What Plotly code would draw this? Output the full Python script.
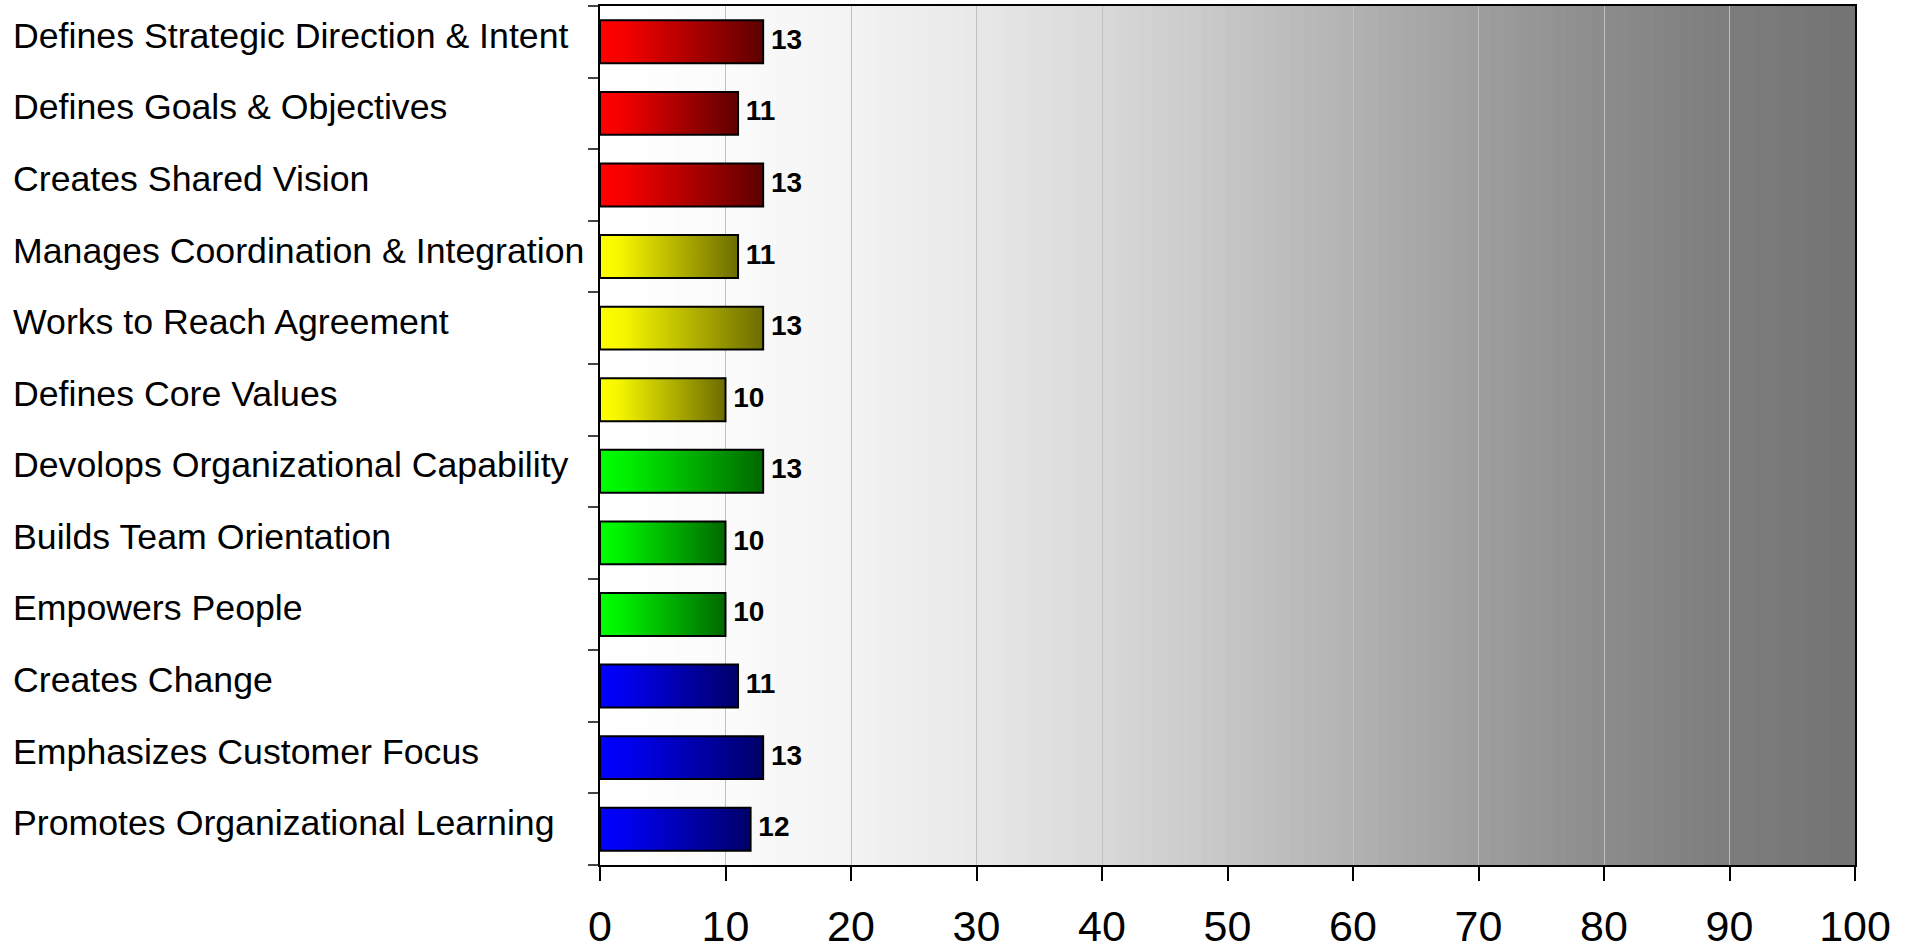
import plotly.graph_objects as go

# Leadership competency scores
categories = [
    "Defines Strategic Direction & Intent",
    "Defines Goals & Objectives",
    "Creates Shared Vision",
    "Manages Coordination & Integration",
    "Works to Reach Agreement",
    "Defines Core Values",
    "Devolops Organizational Capability",
    "Builds Team Orientation",
    "Empowers People",
    "Creates Change",
    "Emphasizes Customer Focus",
    "Promotes Organizational Learning",
]
scores = [13, 11, 13, 11, 13, 10, 13, 10, 10, 11, 13, 12]
groups = ["red", "red", "red", "yellow", "yellow", "yellow",
          "green", "green", "green", "blue", "blue", "blue"]
x_ticks = [0, 10, 20, 30, 40, 50, 60, 70, 80, 90, 100]

# bar gradient (light -> dark) for each group
bar_gradients = {
    "red":    [[0, "#ff0000"], [0.15, "#f50000"], [1, "#5e0000"]],
    "yellow": [[0, "#ffff00"], [0.15, "#f5f500"], [1, "#6c6c00"]],
    "green":  [[0, "#00ff00"], [0.15, "#00f200"], [1, "#006800"]],
    "blue":   [[0, "#0000ff"], [0.15, "#0000f2"], [1, "#000068"]],
}

# grey ramp of the plot background (axis value, grey level)
bg_stops = [(0, 255), (10, 251), (20, 243), (30, 232), (40, 217), (50, 198),
            (60, 178), (70, 158), (80, 140), (90, 125), (100, 115)]

FONT = "Liberation Sans, Arial, sans-serif"
BAR_HALF = 0.3

fig = go.Figure()

# gradient-filled bars with black outline
for i, (v, g) in enumerate(zip(scores, groups)):
    fig.add_trace(go.Scatter(
        x=[0, v, v, 0, 0],
        y=[i - BAR_HALF, i - BAR_HALF, i + BAR_HALF, i + BAR_HALF, i - BAR_HALF],
        mode="lines",
        fill="toself",
        fillgradient=dict(type="horizontal", colorscale=bar_gradients[g]),
        line=dict(color="black", width=2),
        hoverinfo="skip",
        showlegend=False,
    ))

# value labels at bar ends
fig.add_trace(go.Scatter(
    x=scores,
    y=list(range(len(scores))),
    mode="text",
    text=[f" {v}" for v in scores],
    textposition="middle right",
    textfont=dict(family=FONT, size=28, color="black", weight="bold"),
    hoverinfo="skip",
    showlegend=False,
))

# stepped grey background bands (each band runs to the right edge so
# the next, darker band overlaps it without seams)
def grey_at(x):
    for (x0, g0), (x1, g1) in zip(bg_stops[:-1], bg_stops[1:]):
        if x0 <= x <= x1:
            return g0 + (g1 - g0) * (x - x0) / (x1 - x0)
    return bg_stops[-1][1]

shapes = []
for k in range(100):
    g = round(grey_at(k + 0.5))
    shapes.append(dict(
        type="rect", xref="x", yref="y domain",
        x0=k, x1=100, y0=0, y1=1,
        fillcolor=f"rgb({g},{g},{g})", line=dict(width=0), layer="below",
    ))

# category labels, left aligned
annotations = []
for i, c in enumerate(categories):
    annotations.append(dict(
        text=c, xref="paper", x=-0.4690, xanchor="left",
        yref="y", y=i, yanchor="middle", yshift=6,
        showarrow=False, font=dict(family=FONT, size=35.7, color="black"),
    ))

n = len(categories)
fig.update_layout(
    width=1910, height=951,
    margin=dict(l=600, r=55, t=6, b=86),
    paper_bgcolor="white",
    plot_bgcolor="white",
    shapes=shapes,
    annotations=annotations,
    xaxis=dict(
        range=[0, 100], tickvals=x_ticks, ticktext=[str(t) for t in x_ticks],
        showgrid=True, gridcolor="#c0c0c0", gridwidth=1,
        zeroline=False, automargin=False,
        showline=True, linecolor="black", linewidth=2, mirror=True,
        ticks="outside", ticklen=14, tickwidth=1.5, tickcolor="black",
        tickfont=dict(family=FONT, size=43, color="black"),
        ticklabelstandoff=8,
    ),
    yaxis=dict(
        range=[n - 0.5, -0.5],
        tickvals=[k - 0.5 for k in range(n + 1)],
        showticklabels=False, automargin=False,
        showgrid=False, zeroline=False,
        showline=True, linecolor="black", linewidth=2, mirror=True,
        ticks="outside", ticklen=10, tickwidth=1.5, tickcolor="#444",
    ),
)

fig.write_html("out.html")
